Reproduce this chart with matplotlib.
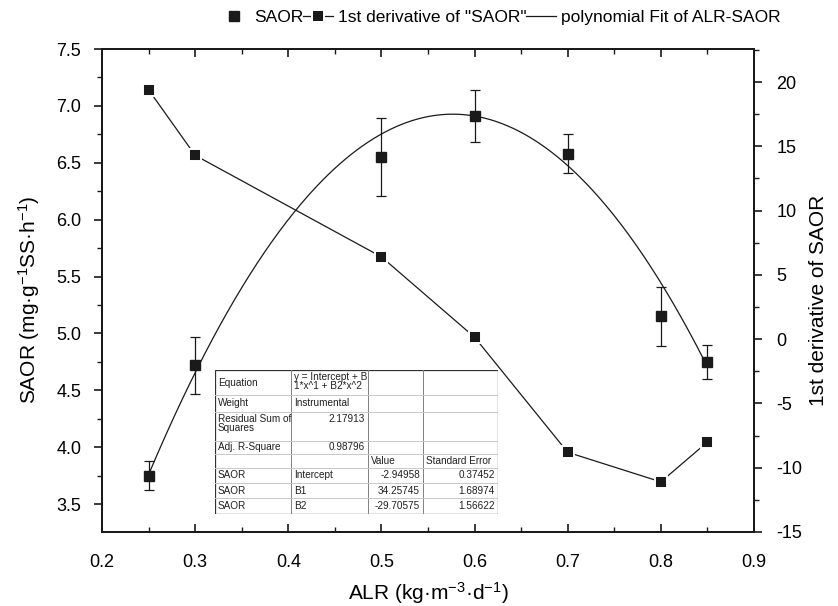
import numpy as np
import matplotlib
matplotlib.use('Agg')
import matplotlib.pyplot as plt
from matplotlib.ticker import MultipleLocator, FormatStrFormatter
from matplotlib.lines import Line2D

plt.rcParams['font.family'] = ['Liberation Sans', 'DejaVu Sans']
plt.rcParams['mathtext.fontset'] = 'custom'
plt.rcParams['mathtext.rm'] = 'Liberation Sans'
plt.rcParams['mathtext.it'] = 'Liberation Sans:italic'
plt.rcParams['mathtext.bf'] = 'Liberation Sans:bold'

# ---- data ----
alr = [0.25, 0.30, 0.50, 0.60, 0.70, 0.80, 0.85]
saor = [3.75, 4.72, 6.55, 6.91, 6.58, 5.15, 4.75]
saor_err = [0.13, 0.25, 0.34, 0.23, 0.17, 0.26, 0.15]
deriv = [19.4, 14.3, 6.4, 0.15, -8.8, -11.1, -8.0]
fit_params = ['Intercept', 'B1', 'B2']
fit_coef = [-2.94958, 34.25745, -29.70575]
fit_value_txt = ['-2.94958', '34.25745', '-29.70575']
fit_se_txt = ['0.37452', '1.68974', '1.56622']
rss_txt = '2.17913'
adj_r2_txt = '0.98796'
legend_labels = ['SAOR', '1st derivative of "SAOR"', 'polynomial Fit of ALR-SAOR']

W, H = 838, 606
fig = plt.figure(figsize=(W / 100, H / 100), dpi=100)
ax = fig.add_axes([102 / W, (H - 532) / H, 652 / W, 483 / H])
ax2 = ax.twinx()

dark = '#1a1a1a'

# fit curve
xs = np.linspace(min(alr), max(alr), 300)
ys = np.polynomial.polynomial.polyval(xs, fit_coef)
ax.plot(xs, ys, color=dark, lw=0.9, zorder=2)

# SAOR points with error bars
ax.errorbar(alr, saor, yerr=saor_err, fmt='s', color=dark, ms=6.8,
            ecolor=dark, elinewidth=0.9, capsize=3.3, capthick=0.9, zorder=3)

# derivative
ax2.plot(alr, deriv, color=dark, lw=0.9, marker='s', ms=8.2, mfc=dark,
         mec='white', mew=1.4, zorder=3)

ax.set_xlim(0.2, 0.9)
ax.set_ylim(3.254, 7.5)
ax2.set_ylim(-15, 22.57)

ax.xaxis.set_major_locator(MultipleLocator(0.1))
ax.xaxis.set_minor_locator(MultipleLocator(0.05))
ax.yaxis.set_major_locator(MultipleLocator(0.5))
ax.yaxis.set_minor_locator(MultipleLocator(0.25))
ax2.yaxis.set_major_locator(MultipleLocator(5))
ax2.yaxis.set_minor_locator(MultipleLocator(2.5))
ax.xaxis.set_major_formatter(FormatStrFormatter('%.1f'))
ax.yaxis.set_major_formatter(FormatStrFormatter('%.1f'))
ax2.yaxis.set_major_formatter(FormatStrFormatter('%d'))

for a in (ax, ax2):
    for s in a.spines.values():
        s.set_linewidth(1.4)
        s.set_color(dark)

ax.tick_params(axis='x', which='both', direction='in', top=True, bottom=True,
               labelsize=13, pad=16, color=dark)
ax.tick_params(axis='x', which='major', length=6, width=1.2)
ax.tick_params(axis='x', which='minor', length=3.8, width=1.0)
ax.tick_params(axis='y', which='both', direction='out', left=True, right=False,
               labelsize=13, pad=9, color=dark)
ax.tick_params(axis='y', which='major', length=6, width=1.2)
ax.tick_params(axis='y', which='minor', length=3.8, width=1.0)
ax2.tick_params(axis='y', which='both', direction='out', right=True,
                labelsize=13, pad=10, color=dark)
ax2.tick_params(axis='y', which='major', length=6, width=1.2)
ax2.tick_params(axis='y', which='minor', length=3.8, width=1.0)

# axis labels
fig.text(29 / W, 1 - 300 / H, 'SAOR (mg·g$^{-1}$SS·h$^{-1}$)', rotation=90,
         ha='center', va='center', fontsize=15)
fig.text(818 / W, 1 - 300 / H, '1st derivative of SAOR', rotation=90,
         ha='center', va='center', fontsize=15)
fig.text(428 / W, 1 - 593 / H, 'ALR (kg·m$^{-3}$·d$^{-1}$)',
         ha='center', va='center', fontsize=15)

# legend
handles = [
    Line2D([], [], marker='s', ls='none', color=dark, ms=6.8),
    Line2D([], [], marker='s', color=dark, lw=0.9, ms=8.2, mfc=dark, mec='white', mew=1.4),
    Line2D([], [], color=dark, lw=0.9),
]
fig.legend(handles, legend_labels, loc='center', bbox_to_anchor=(500 / W, 1 - 17 / H),
           ncol=3, frameon=False, fontsize=12.5, handlelength=1.7,
           handletextpad=0.3, columnspacing=0.0, borderpad=0)

# ---- fit results table ----
tx0, ty0, tw, th = 215, 370, 283, 144
tab = fig.add_axes([tx0 / W, (H - ty0 - th) / H, tw / W, th / H], zorder=10)
tab.set_xlim(0, tw)
tab.set_ylim(th, 0)
tab.axis('off')
tab.add_patch(plt.Rectangle((0, 0), tw, th, facecolor='white', edgecolor='none'))
col_edges = [0, 76, 153, 208, tw]
row_edges = [0, 25, 42, 71, 84, 98, 113, 128, th]
for c in col_edges[1:-1]:
    tab.plot([c, c], [0, th], color='#808080', lw=0.7)
for r in row_edges[1:-1]:
    tab.plot([0, tw], [r, r], color='#c8c8c8', lw=0.7)
tab.add_patch(plt.Rectangle((0, 0), tw, th, facecolor='none', edgecolor='#303030', lw=0.9))

fs = 7.2
def cell_text(row, col, s, align='left', valign='center'):
    x0, x1 = col_edges[col], col_edges[col + 1]
    y0, y1 = row_edges[row], row_edges[row + 1]
    x = x0 + 3 if align == 'left' else x1 - 3
    if valign == 'center':
        tab.text(x, (y0 + y1) / 2, s, ha=align, va='center', fontsize=fs, color='#202020')
    else:
        tab.text(x, y0 + 1.5, s, ha=align, va='top', fontsize=fs, color='#202020',
                 linespacing=0.95)

cell_text(0, 0, 'Equation')
cell_text(0, 1, 'y = Intercept + B\n1*x^1 + B2*x^2', valign='top')
cell_text(1, 0, 'Weight')
cell_text(1, 1, 'Instrumental')
cell_text(2, 0, 'Residual Sum of\nSquares', valign='top')
cell_text(2, 1, rss_txt, align='right', valign='top')
cell_text(3, 0, 'Adj. R-Square')
cell_text(3, 1, adj_r2_txt, align='right', valign='top')
cell_text(4, 2, 'Value')
cell_text(4, 3, 'Standard Error')
for i, p in enumerate(fit_params):
    cell_text(5 + i, 0, 'SAOR')
    cell_text(5 + i, 1, p)
    cell_text(5 + i, 2, fit_value_txt[i], align='right')
    cell_text(5 + i, 3, fit_se_txt[i], align='right')

fig.savefig('out.png', dpi=100)
